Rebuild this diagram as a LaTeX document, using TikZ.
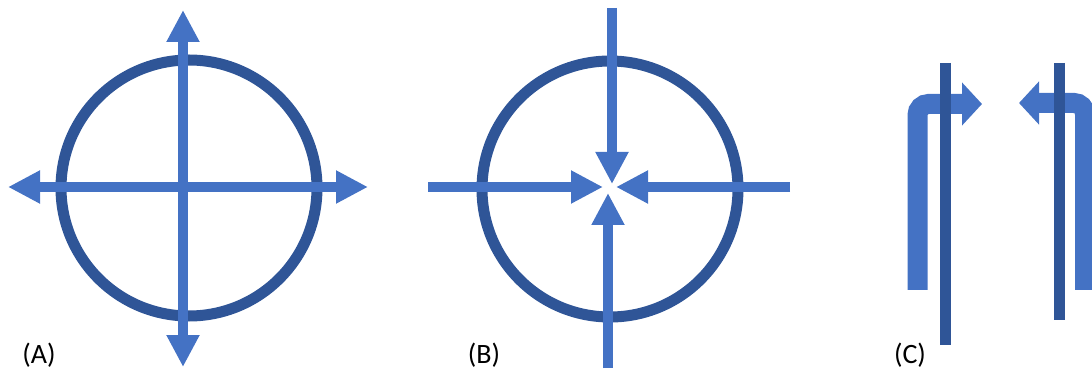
\documentclass[tikz,border=0pt]{standalone}
\usepackage{fontspec}
\setmainfont{Carlito}
\usetikzlibrary{arrows.meta}
\definecolor{lblue}{HTML}{4472C4}
\definecolor{dblue}{HTML}{2F5597}
\tikzset{
  ring/.style={draw=dblue,line width=11pt},
  arr/.style={draw=lblue,line width=10pt,-{Triangle[length=32pt,width=31pt]}},
  bent/.style={draw=lblue,line width=20pt,rounded corners=11pt,-{Triangle[length=20pt,width=42pt]}},
  bar/.style={draw=dblue,line width=11pt},
  lab/.style={font=\fontsize{28}{32}\selectfont,inner sep=0pt}
}
\begin{document}
\begin{tikzpicture}[x=1pt,y=-1pt]
\useasboundingbox (0,0) rectangle (1092,379);
% (A)
\node[circle,minimum size=256pt,inner sep=0pt] (ca) at (189,188) {};
\draw[ring] (ca.center) circle (128);
\coordinate (ac) at (183,187);
\coordinate (al) at (8,187);
\coordinate (ar) at (368,187);
\coordinate (at) at (183,10);
\coordinate (ab) at (183,367);
\draw[arr] (ac) -- (al);
\draw[arr] (ac) -- (ar);
\draw[arr] (ac) -- (at);
\draw[arr] (ac) -- (ab);
\node[lab] (la) at (39,355) {(A)};
% (B)
\node[circle,minimum size=256pt,inner sep=0pt] (cb) at (610,189) {};
\draw[ring] (cb.center) circle (128);
\coordinate (bts) at (612,8);
\coordinate (btt) at (612,184);
\coordinate (bls) at (428,187);
\coordinate (blt) at (603,187);
\coordinate (brs) at (790,187);
\coordinate (brt) at (616,187);
\coordinate (bbs) at (608,368);
\coordinate (bbt) at (608,193);
\draw[arr] (bts) -- (btt);
\draw[arr] (bls) -- (blt);
\draw[arr] (brs) -- (brt);
\draw[arr] (bbs) -- (bbt);
\node[lab] (lb) at (484,355) {(B)};
% (C)
\coordinate (c1s) at (917.5,290);
\coordinate (c1m) at (917.5,104);
\coordinate (c1t) at (982,104);
\draw[bent] (c1s) -- (c1m) -- (c1t);
\coordinate (d1t) at (945.5,63);
\coordinate (d1b) at (945.5,345);
\draw[bar] (d1t) -- (d1b);
\coordinate (c2s) at (1085,290);
\coordinate (c2m) at (1085,103);
\coordinate (c2t) at (1019,103);
\draw[bent] (c2s) -- (c2m) -- (c2t);
\coordinate (d2t) at (1059,63);
\coordinate (d2b) at (1059,320);
\draw[bar] (d2t) -- (d2b);
\node[lab] (lc) at (910,355) {(C)};
\end{tikzpicture}
\end{document}
